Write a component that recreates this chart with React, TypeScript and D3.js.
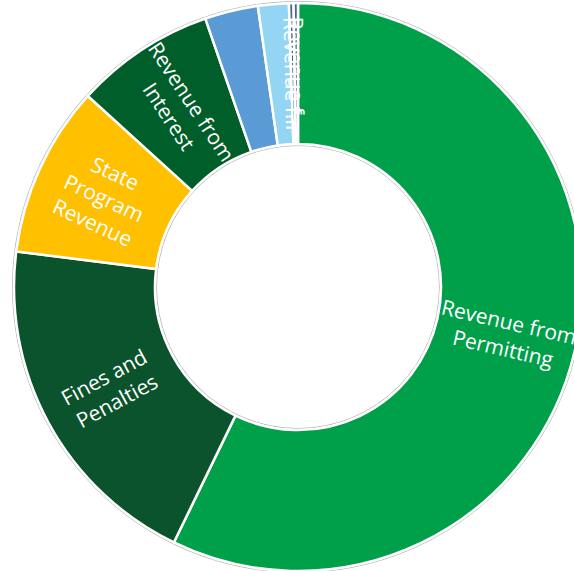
import React from "react";
import * as d3 from "d3";

const categories = [
  "Revenue from Permitting",
  "Fines and Penalties",
  "State Program Revenue",
  "Revenue from Interest",
  "Other Revenue",
  "Grants",
  "Revenue from Fees",
  "Revenue from Other Sources",
];
const values = [57.2, 19.8, 9.74, 7.97, 3.03, 1.75, 0.26, 0.25];
const labelLines = [
  ["Revenue from", "Permitting"],
  ["Fines and", "Penalties"],
  ["State", "Program", "Revenue"],
  ["Revenue from", "Interest"],
  [],
  [],
  ["Revenue f..."],
  ["Revenue f..."],
];
const colors = [
  "#00A04B",
  "#0B532C",
  "#FFC000",
  "#005E2A",
  "#5B9BD5",
  "#93D5F2",
  "#4A6888",
  "#4A6888",
];

const W = 574;
const H = 571;
const cx = 298;
const cy = 287;
const R = 284;
const r0 = 143;

export default function App() {
  const data = categories.map((c, i) => ({ c, v: values[i], i }));
  const pie = d3
    .pie<any>()
    .sort(null)
    .value((d) => d.v)
    .startAngle(0)
    .endAngle(2 * Math.PI);
  const arcs = pie(data);
  const arc = d3.arc<any>().innerRadius(r0).outerRadius(R);
  const fontSize = 21;
  const lh = 27;
  return (
    <svg
      width={W}
      height={H}
      style={{ position: "absolute", left: 0, top: 0, display: "block" }}
    >
      <rect width={W} height={H} fill="#fff" />
      <g transform={`translate(${cx},${cy})`}>
        <circle r={R + 1.5} fill="none" stroke="#b8b8b8" strokeWidth={1} />
        <circle r={r0 - 1.5} fill="none" stroke="#b8b8b8" strokeWidth={1} />
        {arcs.map((a, i) => (
          <path
            key={i}
            d={arc(a) as string}
            fill={colors[i]}
            stroke="#fff"
            strokeWidth={2.5}
          />
        ))}
        {arcs.map((a, i) => {
          const lines = labelLines[i];
          if (!lines.length) return null;
          const mid = (a.startAngle + a.endAngle) / 2;
          const rm = (R + r0) / 2;
          const x = rm * Math.sin(mid);
          const y = -rm * Math.cos(mid);
          let rot = (mid * 180) / Math.PI - 90;
          while (rot > 90) rot -= 180;
          while (rot <= -90) rot += 180;
          const n = lines.length;
          return (
            <text
              key={"l" + i}
              transform={`translate(${x},${y}) rotate(${rot})`}
              fill="#fff"
              fontFamily="'Segoe UI', 'Open Sans', sans-serif"
              fontSize={fontSize}
              textAnchor="middle"
              dominantBaseline="central"
            >
              {lines.map((ln, k) => (
                <tspan key={k} x={0} y={(k - (n - 1) / 2) * lh}>
                  {ln}
                </tspan>
              ))}
            </text>
          );
        })}
      </g>
    </svg>
  );
}
